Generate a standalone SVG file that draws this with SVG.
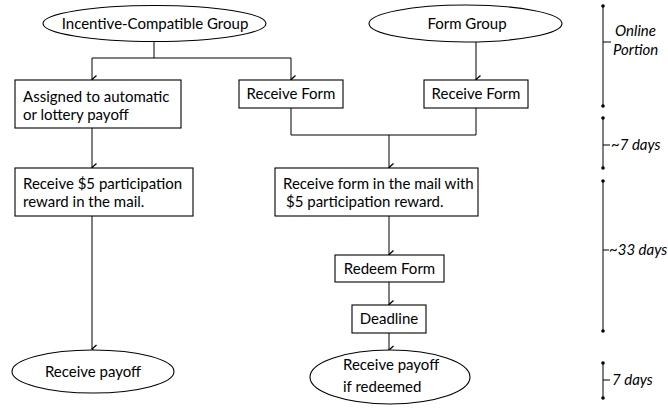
<svg xmlns="http://www.w3.org/2000/svg" width="668" height="409" viewBox="0 0 668 409">
<defs>
<style>
.shape{fill:#fff;stroke:#000;stroke-width:1.1}
.line{fill:none;stroke:#000;stroke-width:1}
.t{font-family:Lato,"Liberation Sans",sans-serif;font-size:15px;fill:#000}
.c{text-anchor:middle}
.i{font-style:italic}
.dot{fill:#000}
</style>
<marker id="arr" markerWidth="10" markerHeight="8" refX="5" refY="6.5" orient="auto-start-reverse" markerUnits="userSpaceOnUse" viewBox="0 0 10 8">
<path d="M1,2 L5,6.5 L9,2" fill="none" stroke="#000" stroke-width="1.3"/>
</marker>
</defs>
<rect width="668" height="409" fill="#fff"/>
<g id="connectors">
<polyline class="line" points="154,41 154,58"/>
<polyline class="line" points="92,58 291,58"/>
<line class="line" x1="92" y1="58" x2="92" y2="79.5" marker-end="url(#arr)"/>
<line class="line" x1="291" y1="58" x2="291" y2="79.5" marker-end="url(#arr)"/>
<line class="line" x1="476" y1="42" x2="476" y2="79.5" marker-end="url(#arr)"/>
<polyline class="line" points="291,108 291,135 476,135 476,108"/>
<line class="line" x1="389" y1="135" x2="389" y2="167.5" marker-end="url(#arr)"/>
<line class="line" x1="92" y1="128" x2="92" y2="167.5" marker-end="url(#arr)"/>
<line class="line" x1="92" y1="216" x2="92" y2="349" marker-end="url(#arr)"/>
<line class="line" x1="389" y1="216" x2="389" y2="254.5" marker-end="url(#arr)"/>
<line class="line" x1="389" y1="282" x2="389" y2="304.5" marker-end="url(#arr)"/>
<line class="line" x1="389" y1="333" x2="389" y2="350" marker-end="url(#arr)"/>
</g>
<g id="n-incentive">
<ellipse class="shape" cx="154.5" cy="23.5" rx="111.5" ry="18"/>
<text class="t c" x="155" y="29">Incentive-Compatible Group</text>
</g>
<g id="n-formgroup">
<ellipse class="shape" cx="465.5" cy="23.5" rx="96.5" ry="18.5"/>
<text class="t c" x="467" y="29">Form Group</text>
</g>
<g id="n-assigned">
<rect class="shape" x="15" y="80" width="166" height="48"/>
<text class="t" x="23" y="102">Assigned to automatic</text>
<text class="t" x="23" y="120">or lottery payoff</text>
</g>
<g id="n-receiveform1">
<rect class="shape" x="239" y="80" width="104" height="28"/>
<text class="t c" x="291" y="99">Receive Form</text>
</g>
<g id="n-receiveform2">
<rect class="shape" x="424" y="80" width="104" height="28"/>
<text class="t c" x="476" y="99">Receive Form</text>
</g>
<g id="n-reward-left">
<rect class="shape" x="15" y="168" width="178" height="48"/>
<text class="t" x="23" y="189">Receive $5 participation</text>
<text class="t" x="23" y="207">reward in the mail.</text>
</g>
<g id="n-reward-right">
<rect class="shape" x="275" y="168" width="203" height="48"/>
<text class="t" x="283" y="189">Receive form in the mail with</text>
<text class="t" x="286" y="207">$5 participation reward.</text>
</g>
<g id="n-redeem">
<rect class="shape" x="335" y="255" width="109" height="27"/>
<text class="t c" x="389.5" y="274">Redeem Form</text>
</g>
<g id="n-deadline">
<rect class="shape" x="352" y="305" width="74" height="28"/>
<text class="t c" x="389" y="324">Deadline</text>
</g>
<g id="n-payoff-left">
<ellipse class="shape" cx="93" cy="371.5" rx="81" ry="21.5"/>
<text class="t c" x="93" y="377">Receive payoff</text>
</g>
<g id="n-payoff-right">
<ellipse class="shape" cx="390" cy="377" rx="80" ry="27"/>
<text class="t" x="343" y="370">Receive payoff</text>
<text class="t" x="343" y="392">if redeemed</text>
</g>
<g id="timeline">
<line class="line" x1="603" y1="6" x2="603" y2="106"/>
<circle class="dot" cx="603" cy="6" r="1.8"/><circle class="dot" cx="603" cy="106" r="1.8"/>
<line class="line" x1="603" y1="42" x2="611" y2="42"/>
<text class="t i" x="615" y="36">Online</text>
<text class="t i" x="613" y="55">Portion</text>
<line class="line" x1="603" y1="118" x2="603" y2="168"/>
<circle class="dot" cx="603" cy="118" r="1.8"/><circle class="dot" cx="603" cy="168" r="1.8"/>
<line class="line" x1="603" y1="145" x2="610" y2="145"/>
<text class="t i" x="611" y="150">~7 days</text>
<line class="line" x1="603" y1="181" x2="603" y2="331"/>
<circle class="dot" cx="603" cy="181" r="1.8"/><circle class="dot" cx="603" cy="331" r="1.8"/>
<line class="line" x1="603" y1="250" x2="609" y2="250"/>
<text class="t i" x="609" y="255">~33 days</text>
<line class="line" x1="603" y1="363" x2="603" y2="398"/>
<circle class="dot" cx="603" cy="363" r="1.8"/><circle class="dot" cx="603" cy="398" r="1.8"/>
<line class="line" x1="603" y1="380" x2="610" y2="380"/>
<text class="t i" x="612" y="385">7 days</text>
</g>
</svg>
